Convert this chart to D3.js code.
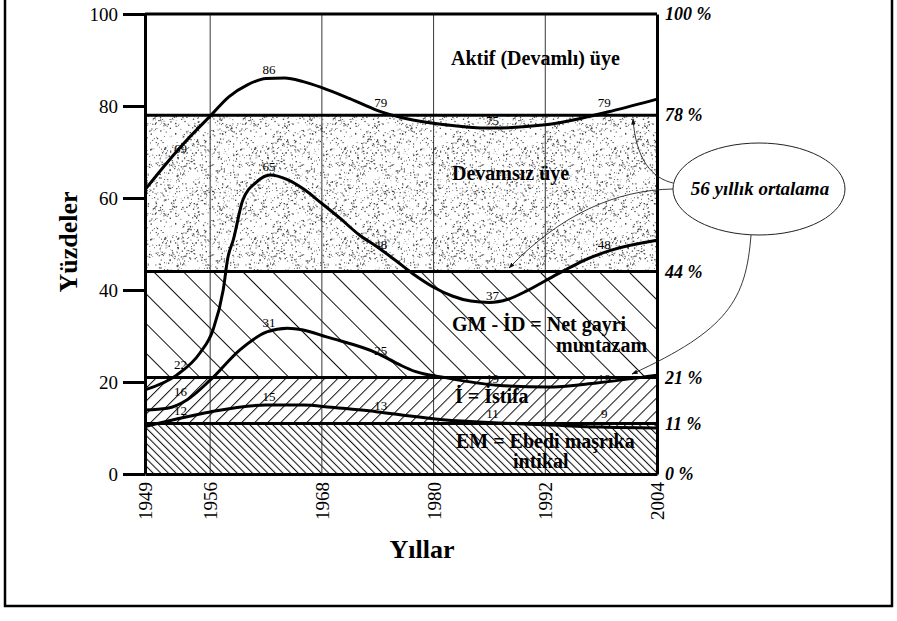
<!DOCTYPE html>
<html><head><meta charset="utf-8">
<script src="https://cdn.jsdelivr.net/npm/d3@7/dist/d3.min.js"></script>
<style>
body{margin:0;background:#fff;}
svg{display:block;font-family:"Liberation Serif","Times New Roman",serif;}
</style></head>
<body><svg id="chart" width="897" height="621"></svg>
<script>
// ---------- data ----------
const yearTicks = [1949, 1956, 1968, 1980, 1992, 2004];
const gridYears = [1956, 1968, 1980, 1992];
const percentTicks = [0, 20, 40, 60, 80, 100];
const averageLevels = [0, 11, 21, 44, 78, 100];
const averageLabels = ["0 %", "11 %", "21 %", "44 %", "78 %", "100 %"];
const bandLines = [11, 21, 44, 78];

const curveAktif = [[1949,61.8],[1951.5,68],[1953.5,72.6],[1956,77.8],[1958,82],[1960,84.6],[1962,86],[1964,86.1],[1966,85.3],[1968,84],[1971,81.6],[1974,79],[1977,77.3],[1981,76],[1986,75.2],[1992,75.9],[1996,77.4],[1999.3,79],[2004,81.5]];
const curveDevamsiz = [[1949,18.3],[1952.4,21.5],[1954.9,26.3],[1956.3,31.3],[1957.4,40],[1957.9,47],[1958.5,51],[1959.5,59.5],[1961,63.5],[1962.4,65],[1964.3,64],[1966,62],[1968,58.8],[1970,55.5],[1972,52],[1974,49.3],[1976,46.3],[1978,43.2],[1980,40.6],[1982,38.7],[1984,37.6],[1986,37.3],[1988,38],[1990,39.8],[1992,42],[1994,44.2],[1996,46.3],[1999,48.6],[2004,50.8]];
const curveGM = [[1949,13.9],[1951.4,14.3],[1953.5,16.1],[1956,20.4],[1959.2,27],[1962.1,30.9],[1964.3,31.7],[1966,31.3],[1968.5,29.8],[1973.9,26.3],[1976.4,23.7],[1978,22.3],[1981.4,20.9],[1986.8,19.3],[1992.2,18.9],[1997.5,19.8],[2004,21.5]];
const curveIstifa = [[1949,10.3],[1952.5,12],[1956,13.5],[1962,15],[1966,15],[1969,14.5],[1974,13.5],[1977,12.7],[1981,11.8],[1987,11.1],[1992,10.7],[1998,10.2],[2004,10]];

const labelYears = [1952.5, 1962, 1974, 1986, 1998];
const labelsAktif = [69, 86, 79, 75, 79];
const labelsDevamsiz = [22, 65, 48, 37, 48];
const labelsGM = [16, 31, 25, 19, 19];
const labelsIstifa = [12, 15, 13, 11, 9];

const regionTexts = ["Aktif (Devamlı) üye", "Devamsız üye", "GM - İD = Net gayri", "muntazam", "İ = İstifa", "EM = Ebedi maşrıka", "intikal"];
const calloutText = "56 yıllık ortalama";
const yTitle = "Yüzdeler";
const xTitle = "Yıllar";

// ---------- drawing ----------
const svg = d3.select("#chart");
const x = d3.scaleLinear().domain([1949, 2004]).range([145, 657]);
const y = d3.scaleLinear().domain([0, 100]).range([474, 14]);

const defs = svg.append("defs");
function hatch(id, spacing, angle, w) {
  const p = defs.append("pattern").attr("id", id).attr("patternUnits", "userSpaceOnUse")
    .attr("width", spacing).attr("height", spacing).attr("patternTransform", `rotate(${angle})`);
  p.append("line").attr("x1", 0.5).attr("y1", 0).attr("x2", 0.5).attr("y2", spacing)
    .attr("stroke", "#111").attr("stroke-width", w);
}
hatch("hDense", 5.4, -45, 1.1);
hatch("hFwd", 9.2, 45, 1);
hatch("hSparse", 21, -45, 1);

// stipple texture (deterministic)
const stip = defs.append("pattern").attr("id", "stipple").attr("patternUnits", "userSpaceOnUse")
  .attr("width", 90).attr("height", 90);
let seed = 20240607;
function lcg() { seed = (seed * 1103515245 + 12345) % 2147483648; return seed / 2147483648; }
const dots = [];
for (let i = 0; i < 750; i++) dots.push([lcg() * 90, lcg() * 90, 0.6 + lcg() * 0.8]);
stip.selectAll("rect").data(dots).join("rect")
  .attr("x", d => d[0]).attr("y", d => d[1]).attr("width", d => d[2]).attr("height", d => d[2])
  .attr("fill", "#444");

// arrow marker
defs.append("marker").attr("id", "arr").attr("viewBox", "0 0 10 10").attr("refX", 9).attr("refY", 5)
  .attr("markerWidth", 7).attr("markerHeight", 7).attr("orient", "auto")
  .append("path").attr("d", "M0,1.5 L10,5 L0,8.5 Z").attr("fill", "#111");

// bands
const fills = ["url(#hDense)", "url(#hFwd)", "url(#hSparse)", "url(#stipple)", "none"];
const bands = d3.range(averageLevels.length - 1).map(i => ({lo: averageLevels[i], hi: averageLevels[i + 1], fill: fills[i]}));
svg.append("g").selectAll("rect").data(bands).join("rect")
  .attr("x", x(1949)).attr("width", x(2004) - x(1949))
  .attr("y", d => y(d.hi)).attr("height", d => y(d.lo) - y(d.hi))
  .attr("fill", d => d.fill);

// grid lines
svg.append("g").selectAll("line").data(gridYears).join("line")
  .attr("x1", d => x(d)).attr("x2", d => x(d)).attr("y1", y(0)).attr("y2", y(100))
  .attr("stroke", "#222").attr("stroke-width", 0.9);

// band (average) lines
svg.append("g").selectAll("line").data(bandLines).join("line")
  .attr("x1", x(1949)).attr("x2", x(2004)).attr("y1", d => y(d)).attr("y2", d => y(d))
  .attr("stroke", "#000").attr("stroke-width", 3);

// curves
const line = d3.line().x(d => x(d[0])).y(d => y(d[1])).curve(d3.curveMonotoneX);
const curves = [curveAktif, curveDevamsiz, curveGM, curveIstifa];
svg.append("g").selectAll("path").data(curves).join("path")
  .attr("d", line).attr("fill", "none").attr("stroke", "#000").attr("stroke-width", 3)
  .attr("stroke-linejoin", "round");

// value labels (kept above the lowest average line)
const labelSets = [labelsAktif, labelsDevamsiz, labelsGM, labelsIstifa];
labelSets.forEach(set => {
  svg.append("g").selectAll("text").data(set).join("text")
    .attr("x", (d, i) => x(labelYears[i]) + 3)
    .attr("y", d => Math.min(y(d) - 4, y(bandLines[0]) - 5))
    .attr("text-anchor", "middle").attr("font-size", 13).attr("fill", "#000")
    .text(d => d);
});

// region texts
const regionPos = [[451, 65], [452, 180], [452, 331], [556, 352], [455, 403], [456, 448], [513, 468]];
svg.append("g").selectAll("text").data(regionTexts).join("text")
  .attr("x", (d, i) => regionPos[i][0]).attr("y", (d, i) => regionPos[i][1])
  .attr("font-size", 20).attr("font-weight", "bold").attr("fill", "#000")
  .text(d => d);

// axes
const left = svg.append("g").attr("transform", `translate(${x(1949)},0)`)
  .call(d3.axisLeft(y).tickValues(percentTicks).tickSize(22).tickSizeOuter(0).tickPadding(5));
left.select(".domain").attr("stroke-width", 3);
left.selectAll(".tick line").attr("stroke-width", 3);
left.selectAll(".tick text").attr("font-size", 19).attr("font-family", "Liberation Serif");

const bottom = svg.append("g").attr("transform", `translate(0,${y(0)})`)
  .call(d3.axisBottom(x).tickValues(yearTicks).tickSize(0).tickSizeOuter(0).tickFormat(d3.format("d")));
bottom.select(".domain").attr("stroke-width", 3);
bottom.selectAll(".tick text").attr("font-size", 19).attr("font-family", "Liberation Serif")
  .attr("transform", "rotate(-90)").attr("text-anchor", "end").attr("x", -8).attr("y", 0).attr("dy", "0.35em");

const right = svg.append("g").attr("transform", `translate(${x(2004)},0)`)
  .call(d3.axisRight(y).tickValues(averageLevels).tickSize(0).tickSizeOuter(0).tickPadding(8)
    .tickFormat((d, i) => averageLabels[i]));
right.select(".domain").attr("stroke-width", 3);
right.selectAll(".tick text").attr("font-size", 18).attr("font-weight", "bold").attr("font-style", "italic")
  .attr("font-family", "Liberation Serif");

svg.append("line").attr("x1", x(1949)).attr("x2", x(2004)).attr("y1", y(100)).attr("y2", y(100))
  .attr("stroke", "#000").attr("stroke-width", 3);

// titles
svg.append("text").attr("transform", `translate(77,242) rotate(-90)`).attr("text-anchor", "middle")
  .attr("font-size", 26).attr("font-weight", "bold").text(yTitle);
svg.append("text").attr("x", 422).attr("y", 558).attr("text-anchor", "middle")
  .attr("font-size", 26).attr("font-weight", "bold").text(xTitle);

// callout
svg.append("ellipse").attr("cx", 759).attr("cy", 189).attr("rx", 86).attr("ry", 46)
  .attr("fill", "#fff").attr("stroke", "#222").attr("stroke-width", 1);
svg.append("text").attr("x", 760).attr("y", 195).attr("text-anchor", "middle")
  .attr("font-size", 19).attr("font-weight", "bold").attr("font-style", "italic").text(calloutText);
const arrows = [
  "M673,183 C652,178 636,160 633,119",
  "M673,189 C615,190 560,215 509,268",
  "M751,235 C746,300 728,330 632,374"
];
svg.append("g").selectAll("path").data(arrows).join("path")
  .attr("d", d => d).attr("fill", "none").attr("stroke", "#222").attr("stroke-width", 0.9)
  .attr("marker-end", "url(#arr)");

// page frame
svg.append("path").attr("d", "M5,0 V606 H892 V0").attr("fill", "none").attr("stroke", "#000").attr("stroke-width", 2.5);
</script>
</body></html>
